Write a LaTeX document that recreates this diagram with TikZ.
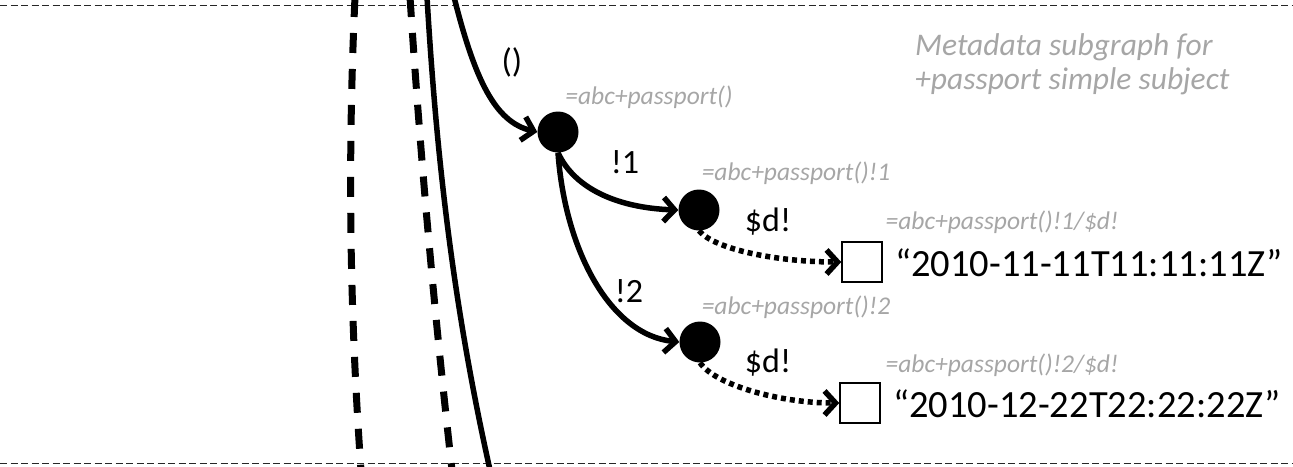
\documentclass[tikz,border=0pt]{standalone}
\usepackage{fontspec}
\setmainfont{Carlito}
\usetikzlibrary{arrows.meta}
\definecolor{lbl}{RGB}{166,166,166}
\tikzset{
  dot/.style={circle,fill=black,inner sep=0pt,minimum size=41pt},
  valbox/.style={draw,line width=1.5pt,inner sep=0pt,minimum size=40pt},
  barb/.style={-{Straight Barb[length=11pt,width=24pt,line width=5.5pt]}},
  edge/.style={line width=5.5pt,barb},
  dotedge/.style={line width=5.5pt,dash pattern=on 5pt off 4pt,barb},
  thickdash/.style={line width=7pt,dash pattern=on 20pt off 16pt},
  sep/.style={line width=1pt,dash pattern=on 7pt off 3.5pt,black!85},
  path/.style={font=\fontsize{25.5}{30}\selectfont\itshape,text=lbl,inner sep=0pt},
  elab/.style={font=\fontsize{34}{40}\selectfont,inner sep=0pt},
  val/.style={font=\fontsize{38.5}{46}\selectfont,inner sep=0pt,anchor=west},
}
\begin{document}
\begin{tikzpicture}[x=1pt,y=-1pt]
\useasboundingbox (0,0) rectangle (1293,466);
% separators
\coordinate (tl) at (0,5); \coordinate (tr) at (1293,5);
\coordinate (bl) at (0,463); \coordinate (br) at (1293,463);
\draw[sep] (tl) -- (tr);
\draw[sep] (bl) -- (br);
% vertical lines
\coordinate (a0) at (355,-3); \coordinate (a1) at (361,470);
\coordinate (b0) at (410,-3); \coordinate (b1) at (452,470);
\coordinate (c0) at (427,-3); \coordinate (c1) at (490,470);
\coordinate (d0) at (454,-3);
\draw[thickdash] (a0) .. controls (348,150) and (349,300) .. (a1);
\draw[thickdash] (b0) .. controls (420,150) and (433,300) .. (b1);
\draw[line width=5.5pt] (c0) .. controls (436,150) and (452,300) .. (c1);
% nodes
\node[dot] (n1) at (558,132) {};
\node[dot] (n2) at (699,210) {};
\node[dot] (n3) at (700,342) {};
\node[valbox] (v1) at (862,262) {};
\node[valbox] (v2) at (860,403) {};
% edges
\draw[edge] (d0) .. controls (475,80) and (495,122) .. (n1.west);
\draw[edge] (n1.south) .. controls (575,190) and (620,208) .. (n2.west);
\draw[edge] (n1.south) .. controls (565,250) and (610,335) .. (n3.west);
\draw[dotedge] (n2.south) .. controls (715,250) and (780,262) .. (v1.west);
\draw[dotedge] (n3.south) .. controls (715,385) and (780,403) .. (v2.west);
% edge labels
\node[elab] (l0) at (512,62) {()};
\node[elab] (l1) at (625,162) {!1};
\node[elab] (l2) at (629,291) {!2};
\node[elab] (l3) at (768,222) {\$d!};
\node[elab] (l4) at (768,363) {\$d!};
% path labels
\node[path] (p0) at (649,97) {=abc+passport()};
\node[path] (p1) at (796,173) {=abc+passport()!1};
\node[path] (p2) at (1002,222) {=abc+passport()!1/\$d!};
\node[path] (p3) at (796,307) {=abc+passport()!2};
\node[path] (p4) at (1002,365) {=abc+passport()!2/\$d!};
% values
\node[val] (t1) at (895,263) {“2010-11-11T11:11:11Z”};
\node[val] (t2) at (893,404) {“2010-12-22T22:22:22Z”};
% caption
\node[font=\fontsize{31.5}{34}\selectfont\itshape,text=lbl,align=left,anchor=west,inner sep=0pt] (cap) at (915,64) {Metadata subgraph for\\+passport simple subject};
\end{tikzpicture}
\end{document}
